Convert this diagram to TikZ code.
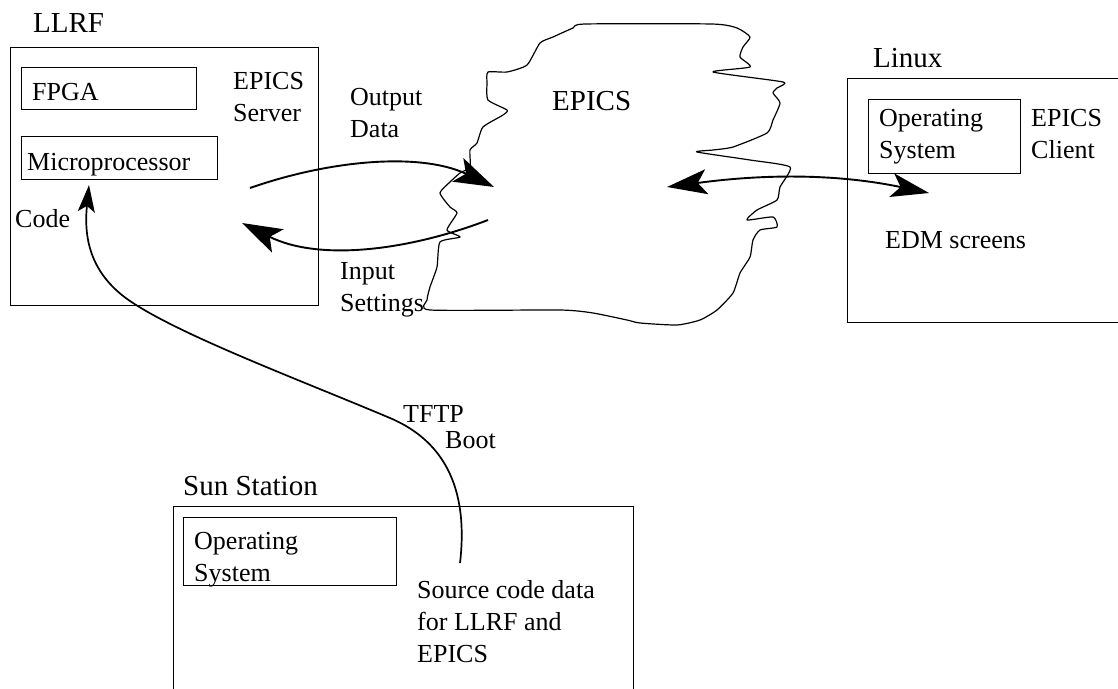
\documentclass[tikz,border=0pt]{standalone}
\usepackage{fontspec}
\setmainfont{Liberation Serif}
\usetikzlibrary{arrows.meta}
\begin{document}
\begin{tikzpicture}[x=1pt,y=-1pt,
  box/.style={draw, line width=1.2pt, rectangle, inner sep=0pt, anchor=north west},
  txt/.style={font=\fontsize{26}{32}\selectfont, inner sep=0pt, anchor=base west, align=left},
  title/.style={font=\fontsize{29}{34}\selectfont, inner sep=0pt, anchor=base west},
  flow/.style={line width=1.9pt, -{Stealth[length=40pt,width=26pt,inset=9pt]}},
  both/.style={line width=1.9pt, {Stealth[length=40pt,width=25pt,inset=9pt]}-{Stealth[length=38pt,width=24pt,inset=9pt]}},
  boot/.style={line width=1.7pt, -{Stealth[length=27pt,width=17pt,inset=6pt]}},
  cloud/.style={draw, line width=1.2pt, line join=round}
]
\useasboundingbox (0,0) rectangle (1118,688);
\clip (0,0) rectangle (1118,688);

% LLRF
\node[title] (llrft) at (33,32) {LLRF};
\node[box, minimum width=308pt, minimum height=258pt] (llrf) at (10,47) {};
\node[box, minimum width=175pt, minimum height=42pt] (fpga) at (21,67) {};
\node[txt] (fpgat) at (32,100) {FPGA};
\node[box, minimum width=196pt, minimum height=43pt] (micro) at (21,136) {};
\node[txt] (microt) at (27,170) {Microprocessor};
\node[txt] (code) at (15,227) {Code};
\node[txt] (server) at (233,121) {EPICS\\Server};

% labels of flows
\node[txt] (outl) at (350,137) {Output\\Data};
\node[txt] (inl) at (340,311) {Input\\Settings};

% EPICS cloud
\draw[cloud] plot[smooth cycle, tension=0.35] coordinates {
(585,24) (712,24) (737,28) (750,37) (743,47) (740,57) (750,67) (713,72)
(783,82) (777,88) (773,93) (780,103) (773,120) (767,133) (733,147) (713,150)
(697,152) (750,160) (790,167) (780,187) (777,200) (757,210) (747,220) (773,217)
(777,227) (760,230) (753,240) (750,257) (740,273) (733,293) (717,310) (700,320)
(677,325) (640,323) (627,320) (593,313) (560,310) (430,310) (427,300) (430,287)
(437,267) (440,242) (460,237) (447,230) (457,213) (450,207) (440,193) (450,182)
(460,173) (470,167) (470,150) (477,143) (483,127) (503,115) (507,110) (488,100)
(487,83) (488,72) (507,72) (527,65) (540,43) (553,37) (573,28)};
\node[title] (epics) at (552,110) {EPICS};

% Linux
\node[title] (linuxt) at (873,67) {Linux};
\node[box, minimum width=300pt, minimum height=244pt] (linux) at (847,78) {};
\node[box, minimum width=152pt, minimum height=74pt] (los) at (868,99) {};
\node[txt] (lost) at (879,158) {Operating\\System};
\node[txt] (client) at (1031,158) {EPICS\\Client};
\node[txt] (edm) at (885,248) {EDM screens};

% Sun Station
\node[title] (sunt) at (183,495) {Sun Station};
\node[box, minimum width=460pt, minimum height=250pt] (sun) at (173,506) {};
\node[box, minimum width=213pt, minimum height=68pt] (sos) at (183,517) {};
\node[txt] (sost) at (194,581) {Operating\\System};
\node[txt] (src) at (417,662) {Source code data\\for LLRF and\\EPICS};
\node[txt] (tftp) at (403,422) {TFTP};
\node[txt] (bootl) at (445,448) {Boot};

% connector end points
\coordinate (o1) at (250,188);
\coordinate (o2) at (494,187);
\coordinate (i1) at (488,220);
\coordinate (i2) at (242,223);
\coordinate (b1) at (667,187);
\coordinate (b2) at (929,193);
\coordinate (t1) at (460,563);
\coordinate (tm) at (390,418);
\coordinate (tn) at (133,303);
\coordinate (t2) at (89,185);

\draw[flow] (o1) .. controls (330,160) and (420,152) .. (o2);
\draw[flow] (i1) .. controls (410,250) and (320,262) .. (i2);
\draw[both] (b1) .. controls (720,180) and (810,168) .. (b2);
\draw[boot] (t1) .. controls (468,495) and (449,443) .. (tm)
  .. controls (300,380) and (185,337) .. (tn)
  .. controls (88,274) and (84,235) .. (t2);
\end{tikzpicture}
\end{document}
